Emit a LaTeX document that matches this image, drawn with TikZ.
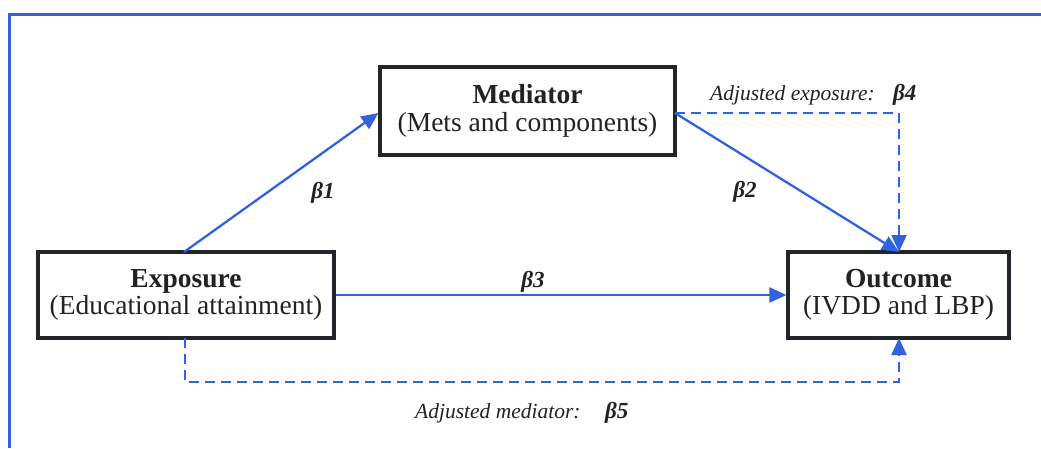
\documentclass[tikz,border=0pt]{standalone}
\usepackage{fontspec}
\setmainfont{Liberation Serif}
\usetikzlibrary{arrows.meta}
\definecolor{lineblue}{RGB}{50,98,222}
\definecolor{boxgray}{RGB}{34,38,42}
\definecolor{txtgray}{RGB}{34,34,34}
\begin{document}
\begin{tikzpicture}[x=1pt,y=-1pt,
  box/.style={draw=boxgray,line width=3.2pt,fill=white,inner sep=0pt,align=center,text=txtgray,
    font=\fontsize{27.5}{27.5}\selectfont},
  conn/.style={draw=lineblue,line width=2.3pt,-{Triangle[length=17pt,width=15pt]}},
  dconn/.style={conn,dash pattern=on 10pt off 6pt},
  blab/.style={text=txtgray,font=\fontsize{23}{24}\selectfont\bfseries\itshape,inner sep=0pt},
  ilab/.style={text=txtgray,font=\fontsize{21.5}{24}\selectfont\itshape,inner sep=0pt}]
\useasboundingbox (0,0) rectangle (1041,448);
\fill[white] (0,0) rectangle (1041,448);
\draw[lineblue,line width=3pt] (9,448) -- (9,14) -- (1041,14);

\node[box,minimum width=295pt,minimum height=88pt] (med) at (527.5,111) {\textbf{Mediator}\\(Mets and components)};
\node[box,minimum width=296pt,minimum height=86pt] (exp) at (186,295) {\textbf{Exposure}\\(Educational attainment)};
\node[box,minimum width=221pt,minimum height=86pt] (out) at (898.5,295) {\textbf{Outcome}\\(IVDD and LBP)};

\coordinate (c1) at (184,252);
\coordinate (c2) at (675,113);
\coordinate (c3) at (899,252);
\coordinate (c4) at (899,113);
\coordinate (c5) at (185,338);
\coordinate (c6) at (185,382);
\coordinate (c7) at (899,382);
\coordinate (c8) at (899,338);

\draw[conn] (c1) -- (med.west |- 0,113);
\draw[conn] (c2) -- (c3);
\draw[conn] (exp.east) -- (out.west);
\draw[dconn] (c2) -- (c4) -- (c3);
\draw[dconn] (c5) -- (c6) -- (c7) -- (c8);

\node[blab] (b1) at (323,193) {β1};
\node[blab] (b2) at (745,192) {β2};
\node[blab] (b3) at (533,282) {β3};
\node[ilab,anchor=base west] (a4) at (710,100) {Adjusted exposure:};
\node[blab,anchor=base west] (b4) at (893,100) {β4};
\node[ilab,anchor=base west] (a5) at (415,418) {Adjusted mediator:};
\node[blab,anchor=base west] (b5) at (605,418) {β5};
\end{tikzpicture}
\end{document}
